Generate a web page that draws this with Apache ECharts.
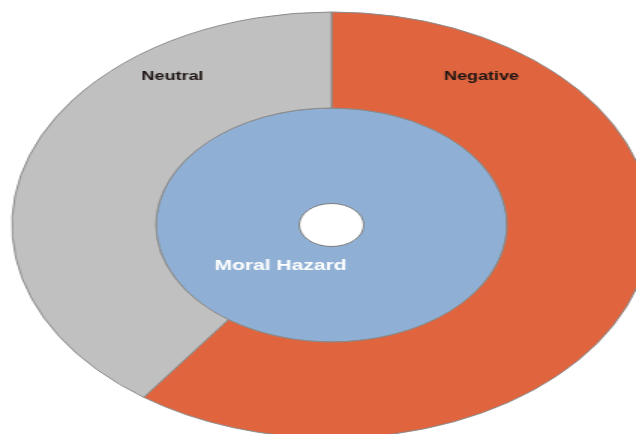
<!DOCTYPE html>
<html>
<head>
<meta charset="utf-8">
<script src="https://cdn.jsdelivr.net/npm/echarts@6/dist/echarts.min.js"></script>
<style>
html, body { margin: 0; padding: 0; background: #fff; overflow: hidden; }
/* the reference picture is stretched sideways, so stretch the chart too */
#chart { width: 424px; height: 434px; transform: scaleX(1.5); transform-origin: 0 0; }
</style>
</head>
<body>
<div id="chart"></div>
<script>
// data
var innerNames = ['Moral Hazard'];
var innerValues = [100];
var outerNames = ['Negative', 'Neutral'];
var outerValues = [60, 40];

var outerColors = ['#e0653f', '#c0c0c0'];
var outerLabelPos = [[321, 77], [115, 77]];

var chart = echarts.init(document.getElementById('chart'));

var option = {
    animation: false,
    series: [
        {
            name: 'inner',
            type: 'pie',
            center: [221, 225],
            radius: [21.5, 117],
            startAngle: 90,
            clockwise: true,
            silent: true,
            itemStyle: { color: '#8fb0d4', borderColor: '#7d7d7d', borderWidth: 1 },
            label: {
                show: true,
                position: 'inside',
                color: '#ffffff',
                fontFamily: 'Liberation Sans, Arial, sans-serif',
                fontWeight: 'bold',
                fontSize: 14
            },
            labelLine: { show: false },
            labelLayout: function () {
                return { x: 187, y: 266, align: 'center', verticalAlign: 'middle' };
            },
            data: innerNames.map(function (n, i) {
                return { name: n, value: innerValues[i] };
            })
        },
        {
            name: 'outer',
            type: 'pie',
            center: [221, 225],
            radius: [117, 213],
            startAngle: 90,
            clockwise: true,
            silent: true,
            itemStyle: { borderColor: '#8a8a8a', borderWidth: 1 },
            label: {
                show: true,
                position: 'inside',
                color: '#1c1412',
                fontFamily: 'Liberation Sans, Arial, sans-serif',
                fontWeight: 'bold',
                fontSize: 12
            },
            labelLine: { show: false },
            labelLayout: function (params) {
                var p = outerLabelPos[params.dataIndex];
                return { x: p[0], y: p[1], align: 'center', verticalAlign: 'middle' };
            },
            data: outerNames.map(function (n, i) {
                return { name: n, value: outerValues[i], itemStyle: { color: outerColors[i] } };
            })
        }
    ]
};

chart.setOption(option);
</script>
</body>
</html>
